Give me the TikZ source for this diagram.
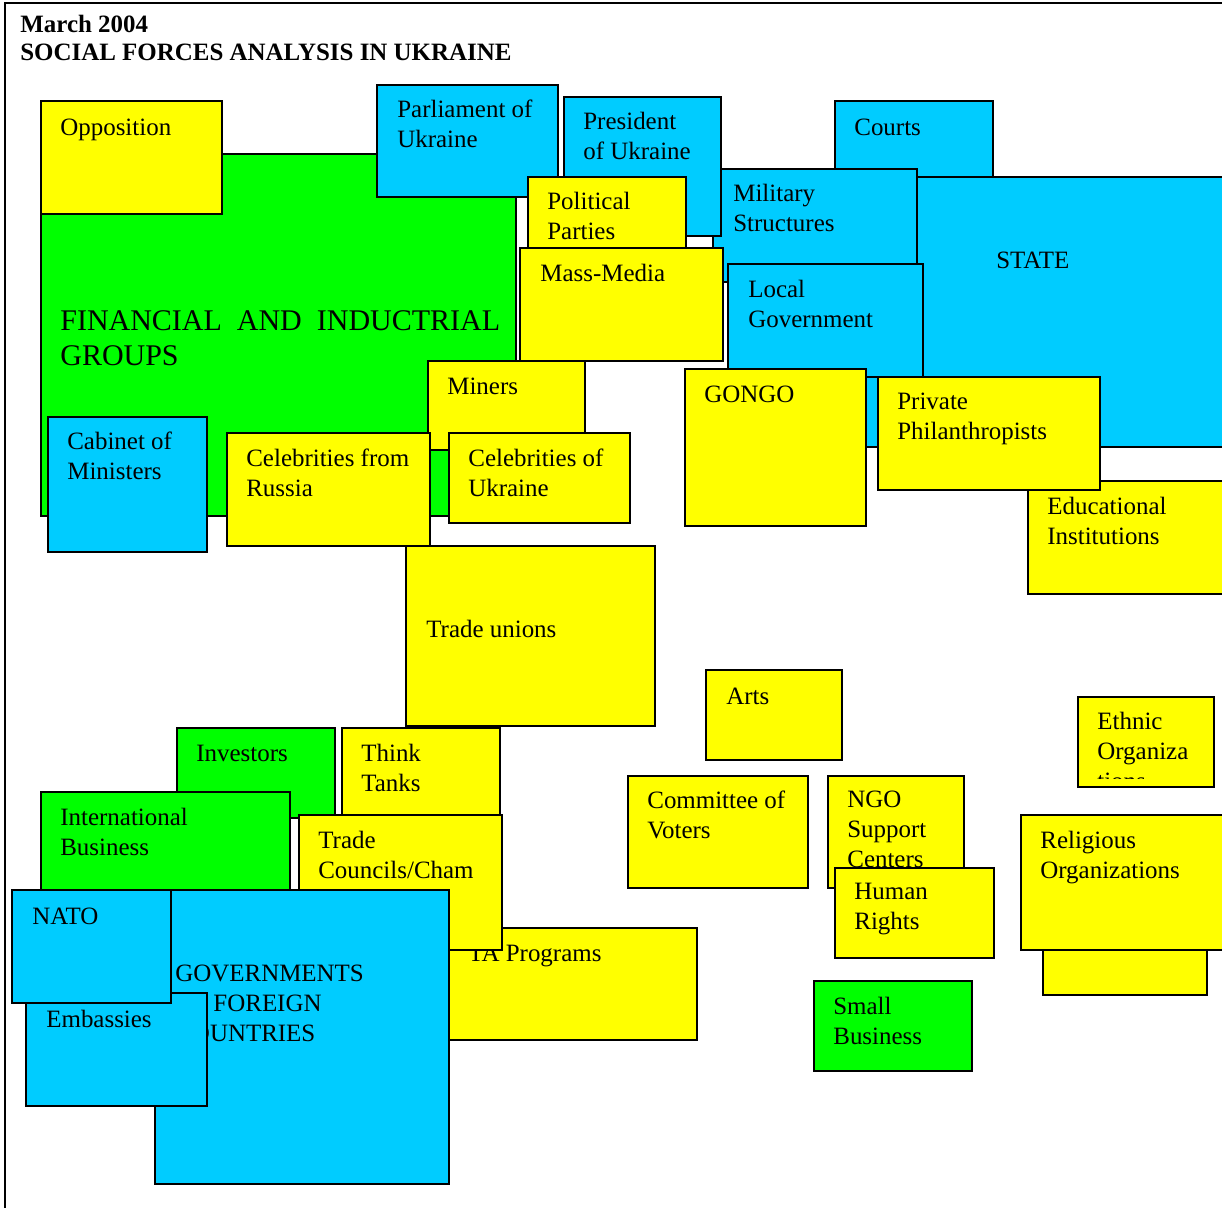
\documentclass[tikz,border=0pt]{standalone}
\usepackage{fontspec}
\setmainfont{Liberation Serif}
\definecolor{stateblue}{HTML}{00CCFF}
\definecolor{forceyellow}{HTML}{FFFF00}
\definecolor{forcegreen}{HTML}{00FF00}
\begin{document}
\begin{tikzpicture}[
    x=0.02cm, y=-0.02cm,
    force/.style={draw=black, line width=1pt},
    yel/.style={force, fill=forceyellow},
    grn/.style={force, fill=forcegreen},
    blu/.style={force, fill=stateblue},
    lbl/.style={anchor=north west, inner sep=0pt, align=left,
        font=\fontsize{14.2}{17.07}\selectfont, execute at begin node=\strut},
    biglbl/.style={lbl, font=\fontsize{17.07}{19.9}\selectfont},
    ttl/.style={anchor=base west, inner sep=0pt, font=\fontsize{14.2}{15.9}\selectfont\bfseries}
]
\useasboundingbox (0,0) rectangle (1222,1207);
\clip (0,0) rectangle (1222,1207);
\draw[line width=1.2pt] (5,1215) -- (5,3) -- (1230,3);
\node[ttl] (date) at (20,32) {March 2004};
\node[ttl] (title) at (20,60) {SOCIAL FORCES ANALYSIS IN UKRAINE};

\path[grn] (41,154) rectangle (516,516);
\node[biglbl] (fig) at (60,310.5) {FINANCIAL\ \ AND\ \ INDUCTRIAL\\GROUPS};
\path[yel] (41,101) rectangle (222,214);
\node[lbl] (opposition) at (60,114) {Opposition};
\path[blu] (377,85) rectangle (558,197);
\node[lbl] (parliament) at (397,100) {Parliament of\\Ukraine};
\path[blu] (835,101) rectangle (993,180);
\node[lbl] (courts) at (854,114) {Courts};
\path[blu] (850,177) rectangle (1240,447);
\node[lbl] (state) at (996,247) {STATE};
\path[blu] (713,169) rectangle (917,282);
\node[lbl] (military) at (733,184) {Military\\Structures};
\path[blu] (564,97) rectangle (721,236);
\node[lbl] (president) at (583,112) {President\\of Ukraine};
\path[yel] (528,177) rectangle (686,248);
\node[lbl] (parties) at (547,192) {Political\\Parties};
\path[yel] (520,248) rectangle (723,361);
\node[lbl] (media) at (540,260) {Mass-Media};
\path[blu] (728,264) rectangle (923,377);
\node[lbl] (localgov) at (748,280) {Local\\Government};
\path[yel] (685,369) rectangle (866,526);
\node[lbl] (gongo) at (704,381) {GONGO};
\path[yel] (1028,481) rectangle (1240,594);
\node[lbl] (education) at (1047,497) {Educational\\Institutions};
\path[yel] (878,377) rectangle (1100,490);
\node[lbl] (philanthropists) at (897,393) {Private\\Philanthropists};
\path[yel] (428,361) rectangle (585,450);
\node[lbl] (miners) at (447,373) {Miners};
\path[blu] (48,417) rectangle (207,552);
\node[lbl] (cabinet) at (67,432) {Cabinet of\\Ministers};
\path[yel] (227,433) rectangle (430,546);
\node[lbl] (celebru) at (246,449) {Celebrities from\\Russia};
\path[yel] (449,433) rectangle (630,523);
\node[lbl] (celebua) at (468,449) {Celebrities of\\Ukraine};
\path[yel] (406,546) rectangle (655,726);
\node[lbl] (unions) at (426,616) {Trade unions};
\path[yel] (706,670) rectangle (842,760);
\node[lbl] (arts) at (726,683) {Arts};
\path[yel] (1078,697) rectangle (1214,787);
\begin{scope}
\clip (1078,697) rectangle (1214,778);
\node[lbl] (ethnic) at (1097,712) {Ethnic\\Organiza\\tions};
\end{scope}
\path[yel] (628,776) rectangle (808,888);
\node[lbl] (voters) at (647,791) {Committee of\\Voters};
\path[yel] (828,776) rectangle (964,888);
\node[lbl] (ngo) at (847,791) {NGO\\Support\\Centers};
\path[yel] (835,868) rectangle (994,958);
\node[lbl] (rights) at (854,883) {Human\\Rights};
\path[yel] (1043,900) rectangle (1207,995);
\path[yel] (1021,815) rectangle (1240,950);
\node[lbl] (religious) at (1040,831) {Religious\\Organizations};
\path[grn] (814,981) rectangle (972,1071);
\node[lbl] (smallbiz) at (833,997) {Small\\Business};

\path[grn] (177,728) rectangle (335,818);
\node[lbl] (investors) at (196,740) {Investors};
\path[yel] (342,728) rectangle (500,818);
\node[lbl] (thinktanks) at (361,744) {Think\\Tanks};
\path[grn] (41,792) rectangle (290,928);
\node[lbl] (intbiz) at (60,808) {International\\Business};
\path[yel] (430,928) rectangle (697,1040);
\node[lbl] (taprog) at (468,940) {TA Programs};
\path[yel] (299,815) rectangle (502,950);
\node[lbl] (chambers) at (318,831) {Trade\\Councils/Cham\\bers};
\path[blu] (155,890) rectangle (449,1184);
\node[lbl] (foreign) at (175,965) {GOVERNMENTS\\OF FOREIGN\\COUNTRIES};
\path[blu] (26,993) rectangle (207,1106);
\node[lbl] (embassies) at (46,1006) {Embassies};
\path[blu] (12,890) rectangle (171,1003);
\node[lbl] (nato) at (32,903) {NATO};
\end{tikzpicture}
\end{document}
